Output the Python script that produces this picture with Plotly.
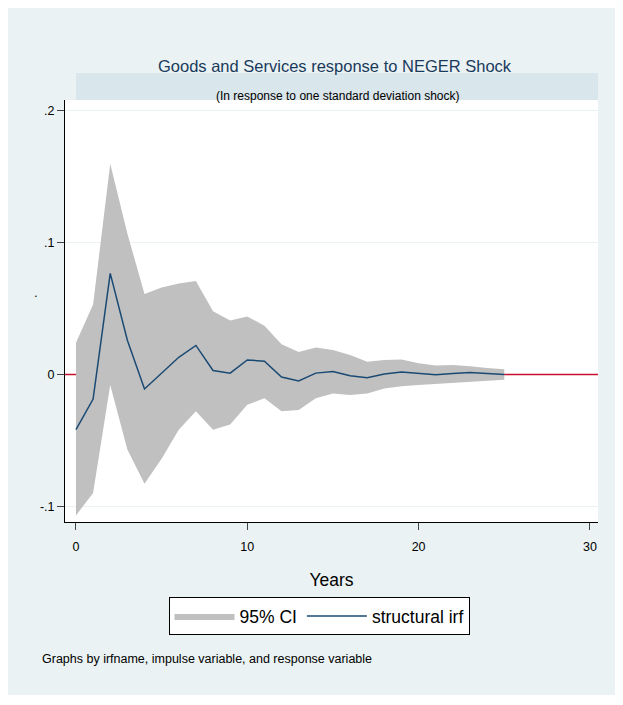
import plotly.graph_objects as go

years = list(range(26))
irf = [-0.0418, -0.0187, 0.0767, 0.026, -0.011, 0.001, 0.013, 0.022, 0.003, 0.001, 0.011, 0.010,
       -0.002, -0.005, 0.001, 0.0023, -0.001, -0.0025, 0.0003, 0.0018, 0.0005, -0.0003, 0.0008, 0.0015, 0.0008, 0.0]
upper = [0.024, 0.053, 0.160, 0.107, 0.061, 0.066, 0.069, 0.071, 0.048, 0.041, 0.044, 0.037,
         0.023, 0.017, 0.0205, 0.0185, 0.0147, 0.0096, 0.011, 0.0114, 0.0084, 0.0068, 0.0071, 0.0063, 0.0048, 0.004]
lower = [-0.107, -0.090, -0.008, -0.057, -0.083, -0.064, -0.042, -0.028, -0.042, -0.038, -0.023, -0.018,
         -0.028, -0.027, -0.018, -0.0144, -0.0157, -0.0144, -0.0106, -0.0089, -0.0081, -0.0073, -0.0063, -0.0053, -0.0048, -0.004]
xticks = [0, 10, 20, 30]
yticks = [-0.1, 0, 0.1, 0.2]
yticklabels = ["-.1", "0", ".1", ".2"]

FONT = "Liberation Sans, Arial"
OFF = 8  # page body margin
W, H = 615, 697
L, R, T, B = 65, 598, 100, 522  # page coordinates of plot area
xr = [-0.64, 30.47]
yr = [-0.112, 0.2083]

def px(x):
    return (x - L) / (R - L)

def py(y):
    return (B - y) / (B - T)

fig = go.Figure()
fig.add_trace(go.Scatter(x=[xr[0], xr[1]], y=[0, 0], mode="lines",
                         line=dict(color="#C8102E", width=1.5), showlegend=False, hoverinfo="skip"))
fig.add_trace(go.Scatter(x=years, y=upper, mode="lines", line=dict(width=0, color="#C0C0C0"),
                         showlegend=False, hoverinfo="skip"))
fig.add_trace(go.Scatter(x=years, y=lower, mode="lines", line=dict(width=0, color="#C0C0C0"),
                         fill="tonexty", fillcolor="#C0C0C0", name="95% CI"))
fig.add_trace(go.Scatter(x=years, y=irf, mode="lines", line=dict(color="#1A4A73", width=1.5),
                         name="structural irf"))

fig.update_layout(
    width=W, height=H, paper_bgcolor="white", plot_bgcolor="white",
    margin=dict(l=L - OFF, r=W + OFF - R, t=T - OFF, b=H + OFF - B, autoexpand=False),
    font=dict(family=FONT, color="black", size=13),
    xaxis=dict(range=xr, tickvals=xticks, ticks="outside", ticklen=7, showgrid=False,
               showline=True, linecolor="black", zeroline=False, tickfont=dict(size=12.5),
               automargin=False, ticklabelstandoff=6,
               title=dict(text="Years", font=dict(size=17.5), standoff=20)),
    yaxis=dict(range=yr, tickvals=yticks, ticktext=yticklabels, ticks="outside", ticklen=7,
               showgrid=True, gridcolor="#EAF2F3", showline=True, linecolor="black",
               zeroline=False, tickfont=dict(size=12.5), automargin=False),
    legend=dict(orientation="h", x=px(319), xanchor="center", y=py(597), yanchor="top",
                bordercolor="black", borderwidth=1, bgcolor="white", font=dict(size=17.5),
                itemwidth=60, traceorder="normal", valign="middle"),
    shapes=[
        dict(type="rect", xref="paper", yref="paper", x0=px(8), x1=px(615),
             y0=py(695), y1=py(8), fillcolor="#EAF2F3", line=dict(width=0), layer="below"),
        dict(type="rect", xref="paper", yref="paper", x0=0, x1=1, y0=0, y1=1, fillcolor="white",
             line=dict(width=0), layer="below"),
        dict(type="rect", xref="paper", yref="paper", x0=px(76), x1=1,
             y0=py(100), y1=py(73), fillcolor="#D9E6EB", line=dict(width=0)),
    ],
    annotations=[
        dict(text="Goods and Services response to NEGER Shock", xref="paper", yref="paper",
             x=px(335), y=py(55), showarrow=False, font=dict(size=16.5, color="#1A3A5C")),
        dict(text="(In response to one standard deviation shock)", xref="paper", yref="paper",
             x=px(337), y=py(87), showarrow=False, font=dict(size=12)),
        dict(text=".", xref="paper", yref="paper", x=px(32), y=py(292), showarrow=False,
             font=dict(size=13)),
        dict(text="Graphs by irfname, impulse variable, and response variable", xref="paper", yref="paper",
             x=px(40), xanchor="left", y=py(668), showarrow=False, font=dict(size=12.5)),
    ],
)
fig.write_html("out.html")
